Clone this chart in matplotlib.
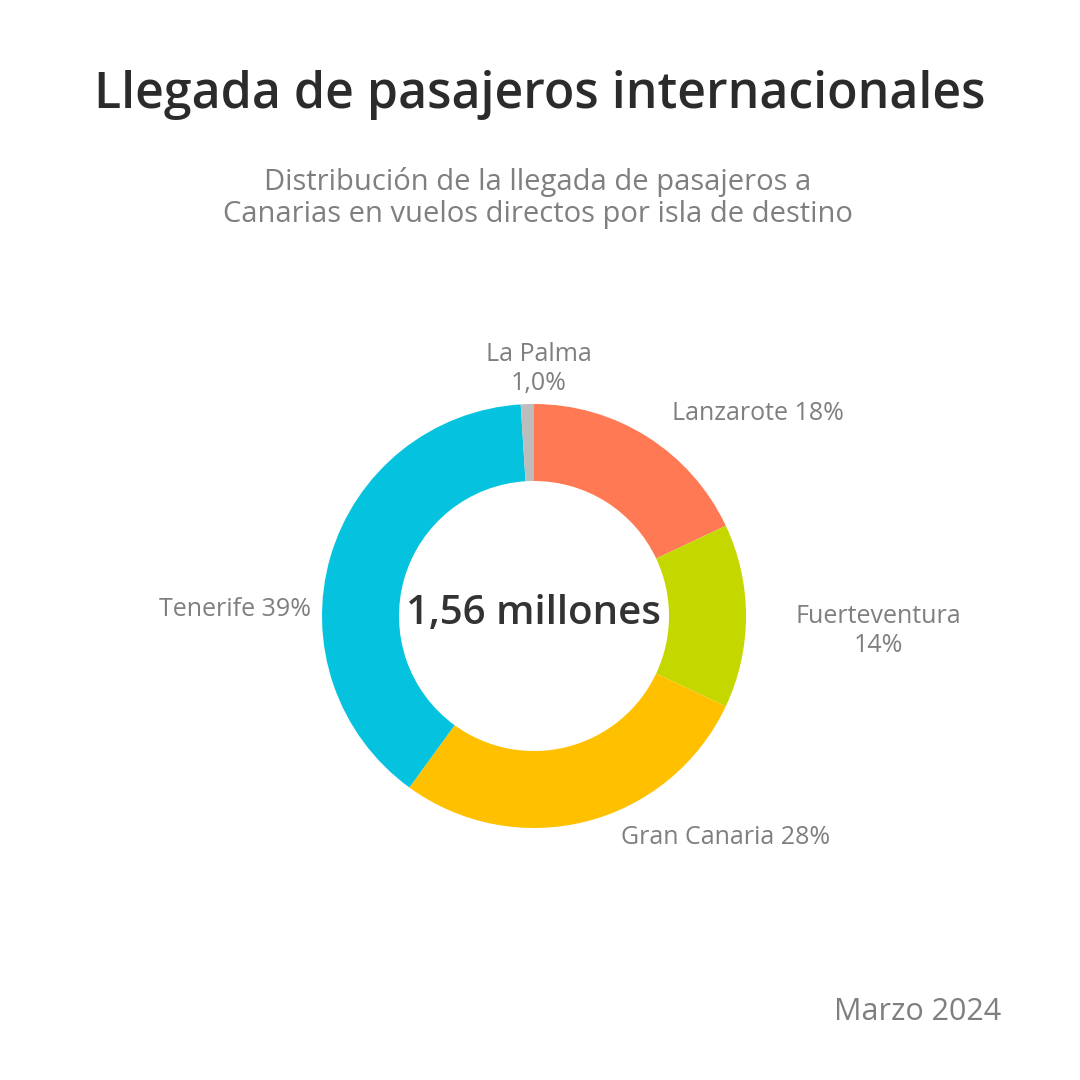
import matplotlib
matplotlib.use("Agg")
import matplotlib.pyplot as plt

# ---- data ----
islands = ["Lanzarote", "Fuerteventura", "Gran Canaria", "Tenerife", "La Palma"]
shares = [18, 14, 28, 39, 1.0]
share_labels = ["18%", "14%", "28%", "39%", "1,0%"]
colors = ["#FF7A54", "#C4D800", "#FFC000", "#05C3DE", "#BDBDBD"]
total_label = "1,56 millones"
title = "Llegada de pasajeros internacionales"
subtitle = "Distribución de la llegada de pasajeros a\nCanarias en vuelos directos por isla de destino"
date_label = "Marzo 2024"

FONT = ["Open Sans", "DejaVu Sans"]
GRAY = "#7f7f7f"
DARK = "#2b2b2b"

W = H = 1080
fig = plt.figure(figsize=(10.8, 10.8), dpi=100)
ax = fig.add_axes([0, 0, 1, 1])

def Y(py):
    return H - py

cx, cy, R = 534, Y(616), 212
ax.pie(shares, colors=colors, startangle=90, counterclock=False,
       center=(cx, cy), radius=R, frame=True,
       wedgeprops=dict(width=R - 135, linewidth=0))
ax.set_xlim(0, W)
ax.set_ylim(0, H)
ax.set_aspect("equal")
ax.axis("off")

ax.text(cx, Y(614), total_label, ha="center", va="center", fontsize=29,
        color="#333333", family=FONT, fontweight="semibold")

# label placements (pixel positions, alignment, line layout)
placements = {
    "Lanzarote": (672, 413, "left", " "),
    "Fuerteventura": (878, 631, "center", "\n"),
    "Gran Canaria": (621, 838, "left", " "),
    "Tenerife": (311, 609, "right", " "),
    "La Palma": (539, 369, "center", "\n"),
}
for name, lab in zip(islands, share_labels):
    x, y, ha, sep = placements[name]
    ax.text(x, Y(y), f"{name}{sep}{lab}", ha=ha, va="center", fontsize=18,
            color=GRAY, family=FONT, linespacing=1.2)

fig.text(540 / W, 1 - 95 / H, title, ha="center", va="center", fontsize=36,
         color=DARK, family=FONT, fontweight="semibold")
fig.text(538 / W, 1 - 198 / H, subtitle, ha="center", va="center", fontsize=21,
         color=GRAY, family=FONT, linespacing=1.15)
fig.text(1001 / W, 1 - 1012 / H, date_label, ha="right", va="center", fontsize=22,
         color=GRAY, family=FONT)

fig.savefig("out.png", dpi=100, facecolor="white")
